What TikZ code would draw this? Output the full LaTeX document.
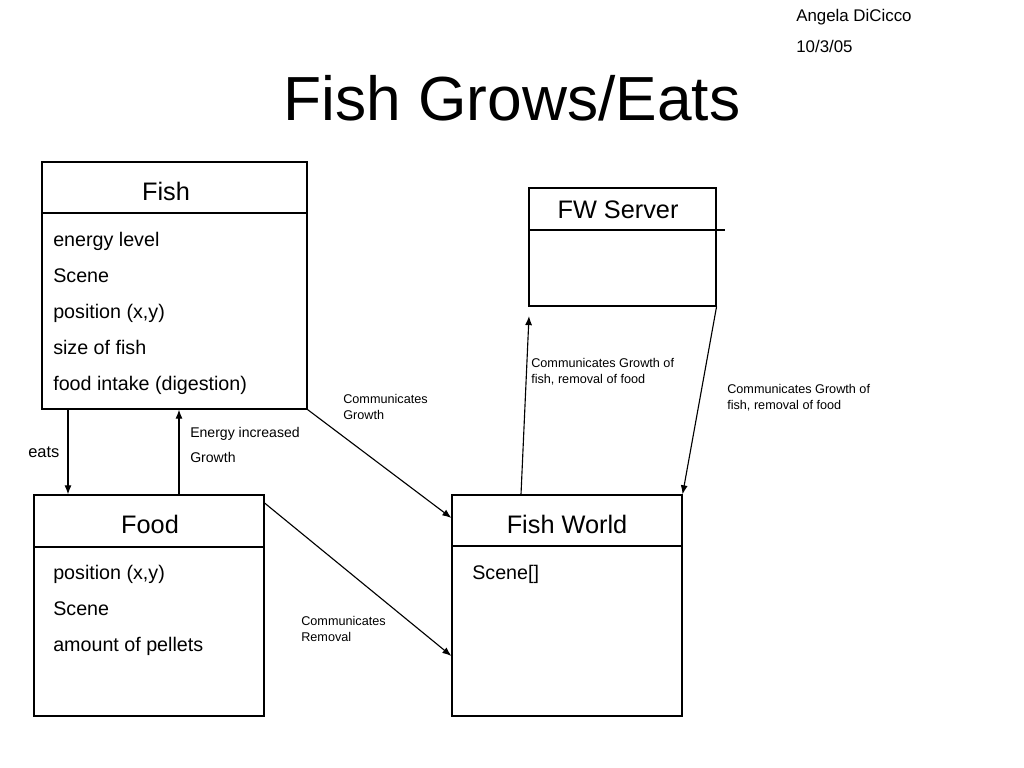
\documentclass[tikz,border=0pt]{standalone}
\usepackage{fontspec}
\setmainfont{Liberation Sans}
\usetikzlibrary{calc}
\usetikzlibrary{fit}
\usetikzlibrary{arrows.meta}
\newcommand{\sz}[1]{\fontsize{#1}{#1}\selectfont}
\tikzset{
  box/.style={draw,line width=0.8pt,inner sep=0pt},
  sep/.style={line width=0.8pt},
  arr/.style={-{Latex[length=6.5pt,width=5pt]},line width=0.8pt},
  cls/.style={anchor=base,inner sep=0pt,font=\sz{18}},
  attr/.style={anchor=base west,inner sep=0pt,font=\sz{14}},
  note/.style={anchor=base west,inner sep=0pt,font=\sz{9}}
}

\begin{document}
\begin{tikzpicture}[x=0.025cm,y=-0.025cm]
  \useasboundingbox (0,0) rectangle (1024,768);
  \node[anchor=base west,inner sep=0pt,font=\sz{12}] (author) at (796,22) {Angela DiCicco};
  \node[anchor=base west,inner sep=0pt,font=\sz{12}] (date) at (796,53) {10/3/05};
  \node[anchor=base,inner sep=0pt,font=\sz{44.3}] (title) at (512,121) {Fish Grows/Eats};

  % classes
  \node[box,fit={(42,162) (307,409)}] (fish) {};
  \draw[sep] (fish.west |- 0,213) -- (fish.east |- 0,213);
  \node[cls] (fishT) at (166,200) {Fish};
  \node[attr] (fishA) at (53,246) {energy level};
  \node[attr] (fishB) at (53,282) {Scene};
  \node[attr] (fishC) at (53,318) {position (x,y)};
  \node[attr] (fishD) at (53,354) {size of fish};
  \node[attr] (fishE) at (53,390) {food intake (digestion)};

  \node[box,fit={(34,495) (264,716)}] (food) {};
  \draw[sep] (food.west |- 0,547) -- (food.east |- 0,547);
  \node[cls] (foodT) at (150,533) {Food};
  \node[attr] (foodA) at (53,579) {position (x,y)};
  \node[attr] (foodB) at (53,615) {Scene};
  \node[attr] (foodC) at (53,651) {amount of pellets};

  \node[box,fit={(452,495) (682,716)}] (world) {};
  \draw[sep] (world.west |- 0,546) -- (world.east |- 0,546);
  \node[cls] (worldT) at (567,533) {Fish World};
  \node[attr] (worldA) at (472,579) {Scene[]};

  \node[box,fit={(529,188) (716,306)}] (server) {};
  \draw[sep] (server.west |- 0,230) -- (725,230);
  \node[cls] (serverT) at (618,218) {FW Server};

  % connectors
  \coordinate (srvin) at (529,316);
  \draw[arr] (fish.south -| 68,0) -- (food.north -| 68,0);
  \draw[arr] (food.north -| 179,0) -- (fish.south -| 179,0);
  \draw[arr] (fish.south east) -- (world.west |- 0,518);
  \draw[arr] (food.east |- 0,503) -- (world.west |- 0,656);
  \draw[arr] (world.north -| 521,0) -- (srvin);
  \draw[arr] (server.south east) -- (world.north east);

  \node[anchor=base west,inner sep=0pt,font=\sz{11.7}] (eats) at (28,457) {eats};
  \node[anchor=base west,inner sep=0pt,font=\sz{10}] (energy) at (190,437) {Energy increased};
  \node[anchor=base west,inner sep=0pt,font=\sz{10}] (growth) at (190,462) {Growth};
  \node[note] (cgA) at (343,403) {Communicates};
  \node[note] (cgB) at (343,419) {Growth};
  \node[note] (crA) at (301,625) {Communicates};
  \node[note] (crB) at (301,641) {Removal};
  \node[note] (upA) at (531,367) {Communicates Growth of};
  \node[note] (upB) at (531,383) {fish, removal of food};
  \node[note] (dnA) at (727,393) {Communicates Growth of};
  \node[note] (dnB) at (727,409) {fish, removal of food};
\end{tikzpicture}
\end{document}
